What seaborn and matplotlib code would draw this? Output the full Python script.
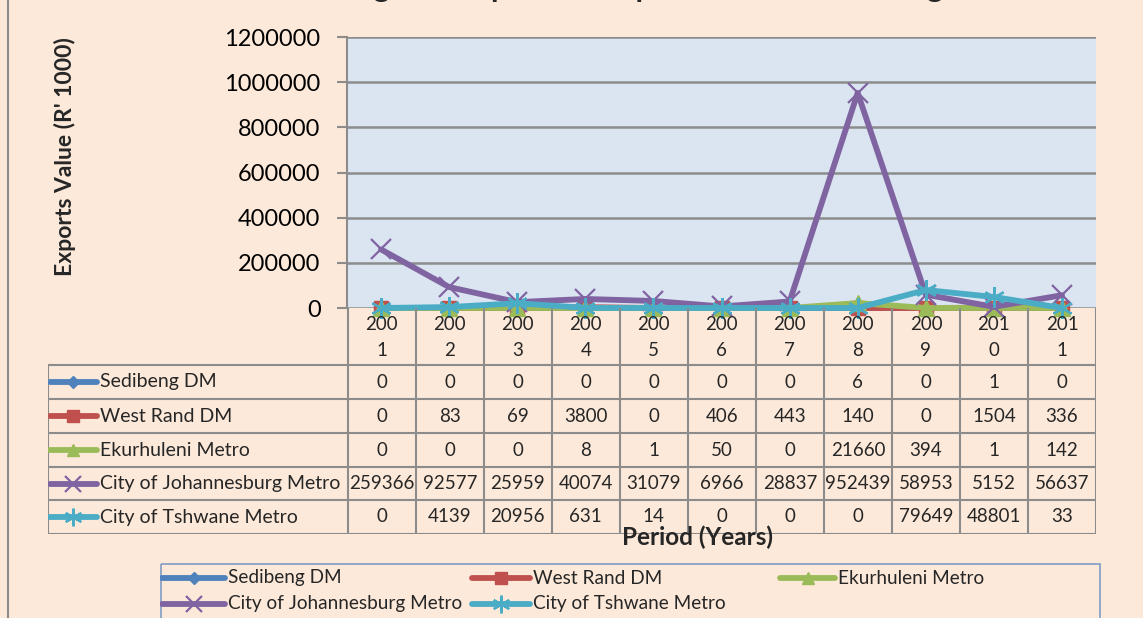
import numpy as np
import pandas as pd
import matplotlib
matplotlib.use("Agg")
import matplotlib.pyplot as plt
import seaborn as sns
from matplotlib.lines import Line2D
from matplotlib.patches import Rectangle

# ---------------- data ----------------
years = [2001, 2002, 2003, 2004, 2005, 2006, 2007, 2008, 2009, 2010, 2011]
sedibeng = [0, 0, 0, 0, 0, 0, 0, 6, 0, 1, 0]
west_rand = [0, 83, 69, 3800, 0, 406, 443, 140, 0, 1504, 336]
ekurhuleni = [0, 0, 0, 8, 1, 50, 0, 21660, 394, 1, 142]
johannesburg = [259366, 92577, 25959, 40074, 31079, 6966, 28837, 952439, 58953, 5152, 56637]
tshwane = [0, 4139, 20956, 631, 14, 0, 0, 0, 79649, 48801, 33]
series_names = ["Sedibeng DM", "West Rand DM", "Ekurhuleni Metro",
                "City of Johannesburg Metro", "City of Tshwane Metro"]
series_values = [sedibeng, west_rand, ekurhuleni, johannesburg, tshwane]
y_ticks = [0, 200000, 400000, 600000, 800000, 1000000, 1200000]
title = "Gauteng Municipalities' Exports to the SADC Region"
y_label = "Exports Value (R' 1000)"
x_label = "Period (Years)"

# ---------------- style ----------------
colors = ["#4F81BD", "#C0504D", "#9BBB59", "#8064A2", "#4BACC6"]
markers = ["D", "s", "^", "x", (6, 2, 0)]
msizes = [7, 10, 11, 14, 15]
mews = [1, 1, 1, 1.6, 1.6]

sns.set_theme(style="white")
plt.rcParams["font.family"] = ["Lato", "DejaVu Sans"]

W, H = 1143, 618
BG = "#FDE9D9"
GRID = "#8C8C8C"
fig = plt.figure(figsize=(W / 100, H / 100), dpi=100, facecolor=BG)

# ---------------- plot area ----------------
ax = fig.add_axes([347 / W, 1 - 308 / H, 749 / W, 271 / H])
ax.set_facecolor("#DBE5F1")
pos = np.arange(len(years))
df = pd.DataFrame({"pos": np.tile(pos, len(series_names)),
                   "value": np.concatenate(series_values),
                   "series": np.repeat(series_names, len(years))})
for name, c, m, ms, mew in zip(series_names, colors, markers, msizes, mews):
    sub = df[df["series"] == name]
    sns.lineplot(data=sub, x="pos", y="value", ax=ax, color=c, lw=4.2,
                 marker=m, markersize=ms, markeredgecolor=c, markerfacecolor=c,
                 markeredgewidth=mew, clip_on=False, legend=False, zorder=3)
ax.set_xlim(-0.5, len(years) - 0.5)
ax.set_ylim(0, 1200000)
ax.set_yticks(y_ticks)
ax.set_yticklabels([str(v) for v in y_ticks])
ax.set_xticks([])
ax.set_xlabel("")
ax.set_ylabel("")
ax.yaxis.grid(True, color=GRID, lw=1.8)
ax.set_axisbelow(True)
for s in ["top", "right", "bottom"]:
    ax.spines[s].set_visible(False)
ax.spines["left"].set_color(GRID)
ax.spines["left"].set_linewidth(1.5)
ax.tick_params(axis="y", length=7, width=1.5, color=GRID, labelsize=17,
               labelcolor="black", pad=12, left=True)

# ---------------- data table ----------------
px_per_unit = 749 / len(years)
lab_w = 300 / px_per_unit
tax = fig.add_axes([48 / W, 1 - 534 / H, 1048 / W, 226 / H])
xmin = -0.5 - lab_w
xmax = len(years) - 0.5
tax.set_xlim(xmin, xmax)
tax.set_ylim(226, 0)
tax.axis("off")
tax.patch.set_alpha(0)
rows = [57, 91, 125, 159, 192, 226]
for r in rows:
    tax.plot([xmin, xmax], [r, r], color=GRID, lw=1.5, solid_capstyle="butt")
for b in np.arange(len(years) + 1) - 0.5:
    tax.plot([b, b], [0, 226], color=GRID, lw=1.5, solid_capstyle="butt")
tax.plot([xmin, xmin], [57, 226], color=GRID, lw=1.5)
for i, yv in enumerate(years):
    s = str(yv)
    tax.text(i, 17, s[:3], ha="center", va="center", fontsize=13.5)
    tax.text(i, 43, s[3:], ha="center", va="center", fontsize=13.5)
for k, (name, vals, c, m, ms, mew) in enumerate(zip(series_names, series_values,
                                                    colors, markers, msizes, mews)):
    yc = (rows[k] + rows[k + 1]) / 2
    x0 = xmin + 2 / px_per_unit
    x1 = xmin + 49 / px_per_unit
    tax.plot([x0, x1], [yc, yc], color=c, lw=4.2, solid_capstyle="round")
    tax.plot([(x0 + x1) / 2], [yc], marker=m, color=c, markersize=ms * 0.85,
             markeredgewidth=mew, markeredgecolor=c)
    tax.text(xmin + 52 / px_per_unit, yc, name, ha="left", va="center", fontsize=14)
    for i, v in enumerate(vals):
        tax.text(i, yc, str(v), ha="center", va="center", fontsize=13.5)

# ---------------- legend ----------------
lax = fig.add_axes([160 / W, 0, 940 / W, 55 / H])
lax.set_xlim(0, 940)
lax.set_ylim(55, 0)
lax.axis("off")
lax.add_patch(Rectangle((0.5, 0.5), 939, 70, fill=False, ec="#7F9DC5", lw=1.2, clip_on=False))
slots = [(2, 65, 15), (312, 370, 15), (620, 675, 15), (2, 65, 41), (312, 370, 41)]
for (hx0, hx1, yy), name, c, m, ms, mew in zip(slots, series_names, colors, markers, msizes, mews):
    lax.plot([hx0, hx1], [yy, yy], color=c, lw=4.2, solid_capstyle="round")
    lax.plot([(hx0 + hx1) / 2], [yy], marker=m, color=c, markersize=ms * 0.85,
             markeredgewidth=mew, markeredgecolor=c)
    lax.text(hx1 + 3, yy, name, ha="left", va="center", fontsize=13.7)

# ---------------- texts ----------------
fig.text(65 / W, 1 - 157 / H, y_label, rotation=90, ha="center", va="center",
         fontsize=16.5, fontweight="bold")
fig.text(697 / W, 1 - 537 / H, x_label, ha="center", va="center",
         fontsize=17.5, fontweight="bold")
fig.text(630 / W, 1 + 3 / H, title, ha="center", va="baseline",
         fontsize=22, fontweight="bold")
fig.add_artist(Line2D([8 / W, 8 / W], [0, 1], color=GRID, lw=1.5))

fig.savefig("out.png", dpi=100, facecolor=BG)
